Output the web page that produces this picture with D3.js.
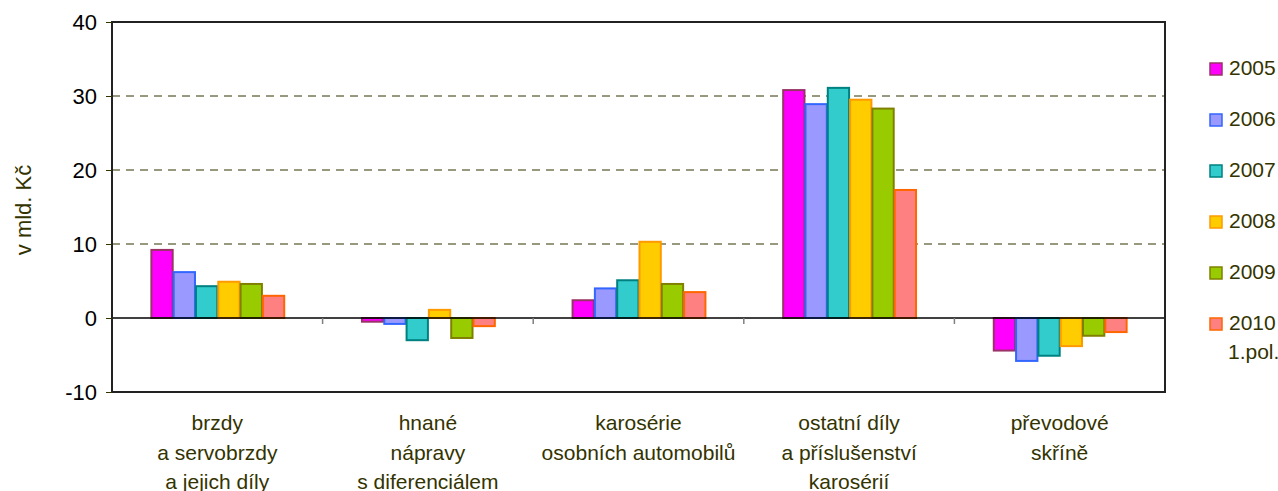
<!DOCTYPE html>
<html>
<head>
<meta charset="utf-8">
<script src="https://cdn.jsdelivr.net/npm/d3@7"></script>
<style>
  body { margin: 0; background: #fff; }
  svg text { font-family: "Liberation Sans", Arial, sans-serif; fill: #333300; }
</style>
</head>
<body>
<svg id="chart" width="1278" height="491"></svg>
<script>
// kategorie (popisky na ose x, po řádcích)
const categories = [
  ["brzdy", "a servobrzdy", "a jejich díly"],
  ["hnané", "nápravy", "s diferenciálem"],
  ["karosérie", "osobních automobilů"],
  ["ostatní díly", "a příslušenství", "karosérií"],
  ["převodové", "skříně"]
]
const years = ["2005", "2006", "2007", "2008", "2009", "2010"]
// hodnoty v mld. Kč, jeden řádek = jeden rok
const v2005 = [9.2, -0.5, 2.4, 30.8, -4.4]
const v2006 = [6.2, -0.8, 4.0, 28.9, -5.8]
const v2007 = [4.3, -3.0, 5.1, 31.1, -5.1]
const v2008 = [4.9, 1.1, 10.3, 29.5, -3.8]
const v2009 = [4.6, -2.7, 4.6, 28.3, -2.4]
const v2010 = [3.0, -1.1, 3.5, 17.3, -1.9]
const series = [v2005, v2006, v2007, v2008, v2009, v2010]
const yTicks = [-10, 0, 10, 20, 30, 40]

const fills = ["#ff00ff", "#9999ff", "#33cccc", "#ffcc00", "#99cc00", "#ff8080"]
const strokes = ["#993366", "#3366ff", "#008080", "#ff9900", "#808000", "#ff6600"]

const svg = d3.select("#chart")
const pLeft = 112, pRight = 1165, pTop = 22, pBottom = 392

const x = d3.scaleBand().domain(d3.range(categories.length)).range([pLeft, pRight])
const xi = d3.scaleBand().domain(d3.range(years.length))
  .range([0, x.bandwidth()]).paddingOuter(1.72)
const y = d3.scaleLinear().domain([-10, 40]).range([pBottom, pTop])

// mřížka - čárkovaná
svg.append("g").selectAll("line")
  .data(yTicks.filter(t => t > 0 && t < 40))
  .join("line")
  .attr("x1", pLeft).attr("x2", pRight)
  .attr("y1", d => y(d)).attr("y2", d => y(d))
  .attr("stroke", "#333300").attr("stroke-width", 1)
  .attr("stroke-dasharray", "8,6")

// sloupce
const groups = svg.append("g").selectAll("g")
  .data(series).join("g")
  .attr("fill", (d, i) => fills[i])
  .attr("stroke", (d, i) => strokes[i])

groups.each(function (vals, si) {
  d3.select(this).selectAll("rect")
    .data(vals).join("rect")
    .attr("x", (d, ci) => x(ci) + xi(si) + 1)
    .attr("width", xi.bandwidth() - 1)
    .attr("y", d => y(Math.max(0, d)))
    .attr("height", d => Math.abs(y(d) - y(0)))
    .attr("stroke-width", 2)
})

// nulová čára
svg.append("line")
  .attr("x1", pLeft).attr("x2", pRight)
  .attr("y1", y(0)).attr("y2", y(0))
  .attr("stroke", "#000").attr("stroke-width", 1.5)

// značky mezi kategoriemi
svg.append("g").selectAll("line")
  .data(d3.range(1, categories.length))
  .join("line")
  .attr("x1", d => x(d)).attr("x2", d => x(d))
  .attr("y1", y(0)).attr("y2", y(0) + 6)
  .attr("stroke", "#808080").attr("stroke-width", 1.5)

// rámeček
svg.append("rect")
  .attr("x", pLeft).attr("y", pTop)
  .attr("width", pRight - pLeft).attr("height", pBottom - pTop)
  .attr("fill", "none").attr("stroke", "#222").attr("stroke-width", 2)

// osa y
const yAxis = svg.append("g")
  .attr("transform", `translate(${pLeft},0)`)
  .call(d3.axisLeft(y).tickValues(yTicks).tickFormat(d => String(d)).tickSize(6).tickPadding(9))
yAxis.select(".domain").remove()
yAxis.selectAll("line").attr("stroke", "#333300")
yAxis.selectAll("text")
  .attr("font-size", 22)
  .style("fill", "#000")

svg.append("text")
  .attr("transform", `translate(31,210) rotate(-90)`)
  .attr("text-anchor", "middle")
  .attr("font-size", 22)
  .text("v mld. Kč")

// popisky kategorií
svg.append("g").selectAll("text")
  .data(categories).join("text")
  .attr("text-anchor", "middle")
  .attr("font-size", 21)
  .attr("x", (d, i) => x(i) + x.bandwidth() / 2)
  .attr("y", 430)
  .each(function (lines) {
    const cx = d3.select(this).attr("x")
    d3.select(this).selectAll("tspan")
      .data(lines).join("tspan")
      .attr("x", cx)
      .attr("dy", (d, i) => i === 0 ? 0 : 29.5)
      .text(d => d)
  })

// legenda
const legend = svg.append("g").selectAll("g")
  .data(years).join("g")
  .attr("transform", (d, i) => `translate(1210,${69 + i * 51})`)
legend.append("rect")
  .attr("x", 0).attr("y", -6).attr("width", 12).attr("height", 12)
  .attr("fill", (d, i) => fills[i]).attr("stroke", (d, i) => strokes[i])
  .attr("stroke-width", 1.5)
legend.append("text")
  .attr("x", 19).attr("y", 6)
  .attr("font-size", 21)
  .text(d => d)
svg.append("text")
  .attr("x", 1228).attr("y", 359)
  .attr("font-size", 21)
  .text("1.pol.")
</script>
</body>
</html>
